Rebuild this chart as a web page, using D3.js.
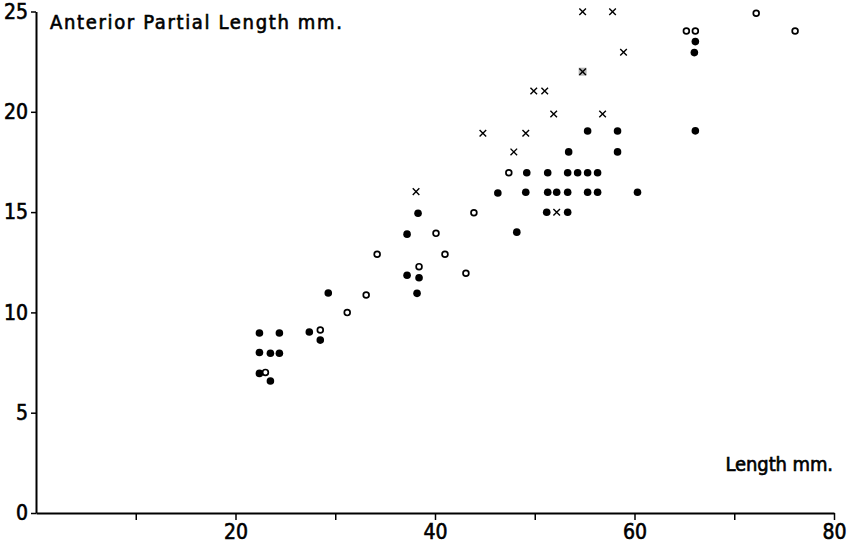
<!DOCTYPE html>
<html lang="en">
<head>
    <meta charset="utf-8">
    <title>Anterior Partial Length</title>
    <script type="text/javascript" src="https://d3js.org/d3.v7.min.js"></script>
    <style>
        body { margin: 0; background: #fff; }
        svg text {
            font-family: "DejaVu Sans Condensed", "DejaVu Sans", sans-serif;
            fill: #000;
            stroke: #000;
            stroke-width: 0.6;
        }
    </style>
</head>
<body>
    <div id="chart"></div>
    <script type="text/javascript">
        // [length mm, anterior partial length mm]
        const filled = [
            [22.4, 8.97], [24.4, 8.97], [27.4, 9.02], [28.5, 8.62],
            [22.4, 8.0], [23.5, 7.96], [24.4, 7.96], [22.4, 6.96], [23.5, 6.58],
            [29.3, 10.97], [38.3, 14.94], [37.2, 13.9], [37.2, 11.85], [38.4, 11.73], [38.2, 10.95],
            [46.3, 15.95], [48.2, 14.0],
            [49.2, 16.96], [51.3, 16.96], [53.3, 16.96], [54.3, 16.96], [55.3, 16.96], [56.3, 16.96],
            [49.1, 15.99], [51.3, 15.99], [52.2, 15.99], [53.3, 15.99], [55.3, 15.99], [56.3, 15.99], [60.3, 15.99],
            [51.2, 14.99], [53.3, 14.99],
            [53.4, 18.0], [58.3, 18.0], [55.3, 19.04], [58.3, 19.04],
            [66.1, 23.5], [66.0, 22.95], [66.1, 19.05]
        ];
        const open = [
            [28.5, 9.12], [31.2, 9.99], [23.0, 7.01],
            [43.9, 14.97], [40.1, 13.94], [34.2, 12.9], [41.0, 12.9], [38.4, 12.28],
            [43.1, 11.95], [33.1, 10.87], [47.4, 16.96],
            [65.2, 24.03], [66.1, 24.03], [72.2, 24.91], [76.1, 24.03]
        ];
        const crosses = [
            [38.1, 16.02], [44.8, 18.93], [49.1, 18.93], [47.9, 18.0], [52.2, 14.99],
            [49.9, 21.04], [51.0, 21.04], [51.9, 19.89], [56.8, 19.89],
            [54.8, 24.99], [57.8, 24.99], [58.9, 22.97]
        ];
        const shaded = [[54.8, 22.0]];

        const xTicks = [10, 20, 30, 40, 50, 60, 70, 80];
        const xLabels = [20, 40, 60, 80];
        const yTicks = [0, 5, 10, 15, 20, 25];

        const width = 852;
        const height = 543;

        const svg = d3.select("#chart")
            .append("svg")
            .attr("width", width)
            .attr("height", height);

        const x = d3.scaleLinear().domain([0, 80]).range([36, 834]);
        const y = d3.scaleLinear().domain([0, 25]).range([513, 11.5]);

        // x axis, ticks every 10, labels on even tens only
        svg.append("g")
            .attr("transform", "translate(0," + y(0) + ")")
            .call(d3.axisBottom(x)
                .tickValues(xTicks)
                .tickFormat(d => xLabels.includes(d) ? d : "")
                .tickSizeInner(7)
                .tickSizeOuter(0)
                .tickPadding(4))
            .call(g => g.select(".domain").attr("stroke-width", 2))
            .call(g => g.selectAll(".tick line").attr("stroke-width", 1.5))
            .selectAll("text")
                .attr("font-size", 21)
                .style("font-family", null);

        svg.append("g")
            .attr("transform", "translate(" + x(0) + ",0)")
            .call(d3.axisLeft(y).tickValues(yTicks).tickSizeInner(5).tickSizeOuter(0).tickPadding(3))
            .call(g => g.select(".domain").attr("stroke-width", 2))
            .call(g => g.selectAll(".tick line").attr("stroke-width", 1.5))
            .selectAll("text")
                .attr("font-size", 21)
                .style("font-family", null);

        svg.append("text")
            .attr("x", 50)
            .attr("y", 29)
            .attr("font-size", 20)
            .attr("letter-spacing", 1.65)
            .text("Anterior Partial Length mm.");

        svg.append("text")
            .attr("x", 833)
            .attr("y", 471)
            .attr("text-anchor", "end")
            .attr("font-size", 20)
            .attr("letter-spacing", -0.1)
            .text("Length mm.");

        // points
        svg.selectAll("circle.filled")
            .data(filled)
            .enter()
            .append("circle")
                .attr("class", "filled")
                .attr("cx", d => x(d[0]))
                .attr("cy", d => y(d[1]))
                .attr("r", 3.8)
                .attr("fill", "#000");

        svg.selectAll("circle.open")
            .data(open)
            .enter()
            .append("circle")
                .attr("class", "open")
                .attr("cx", d => x(d[0]))
                .attr("cy", d => y(d[1]))
                .attr("r", 2.9)
                .attr("fill", "none")
                .attr("stroke", "#000")
                .attr("stroke-width", 1.7);

        const cross = d3.symbol().type(d3.symbolX).size(30);

        svg.selectAll("rect.shaded")
            .data(shaded)
            .enter()
            .append("rect")
                .attr("class", "shaded")
                .attr("x", d => x(d[0]) - 4)
                .attr("y", d => y(d[1]) - 4)
                .attr("width", 8)
                .attr("height", 8)
                .attr("fill", "#b8b8b8");

        svg.selectAll("path.cross")
            .data(crosses.concat(shaded))
            .enter()
            .append("path")
                .attr("class", "cross")
                .attr("d", cross)
                .attr("transform", d => "translate(" + x(d[0]) + "," + y(d[1]) + ")")
                .attr("fill", "none")
                .attr("stroke", "#000")
                .attr("stroke-width", 1.4);
    </script>
</body>
</html>
